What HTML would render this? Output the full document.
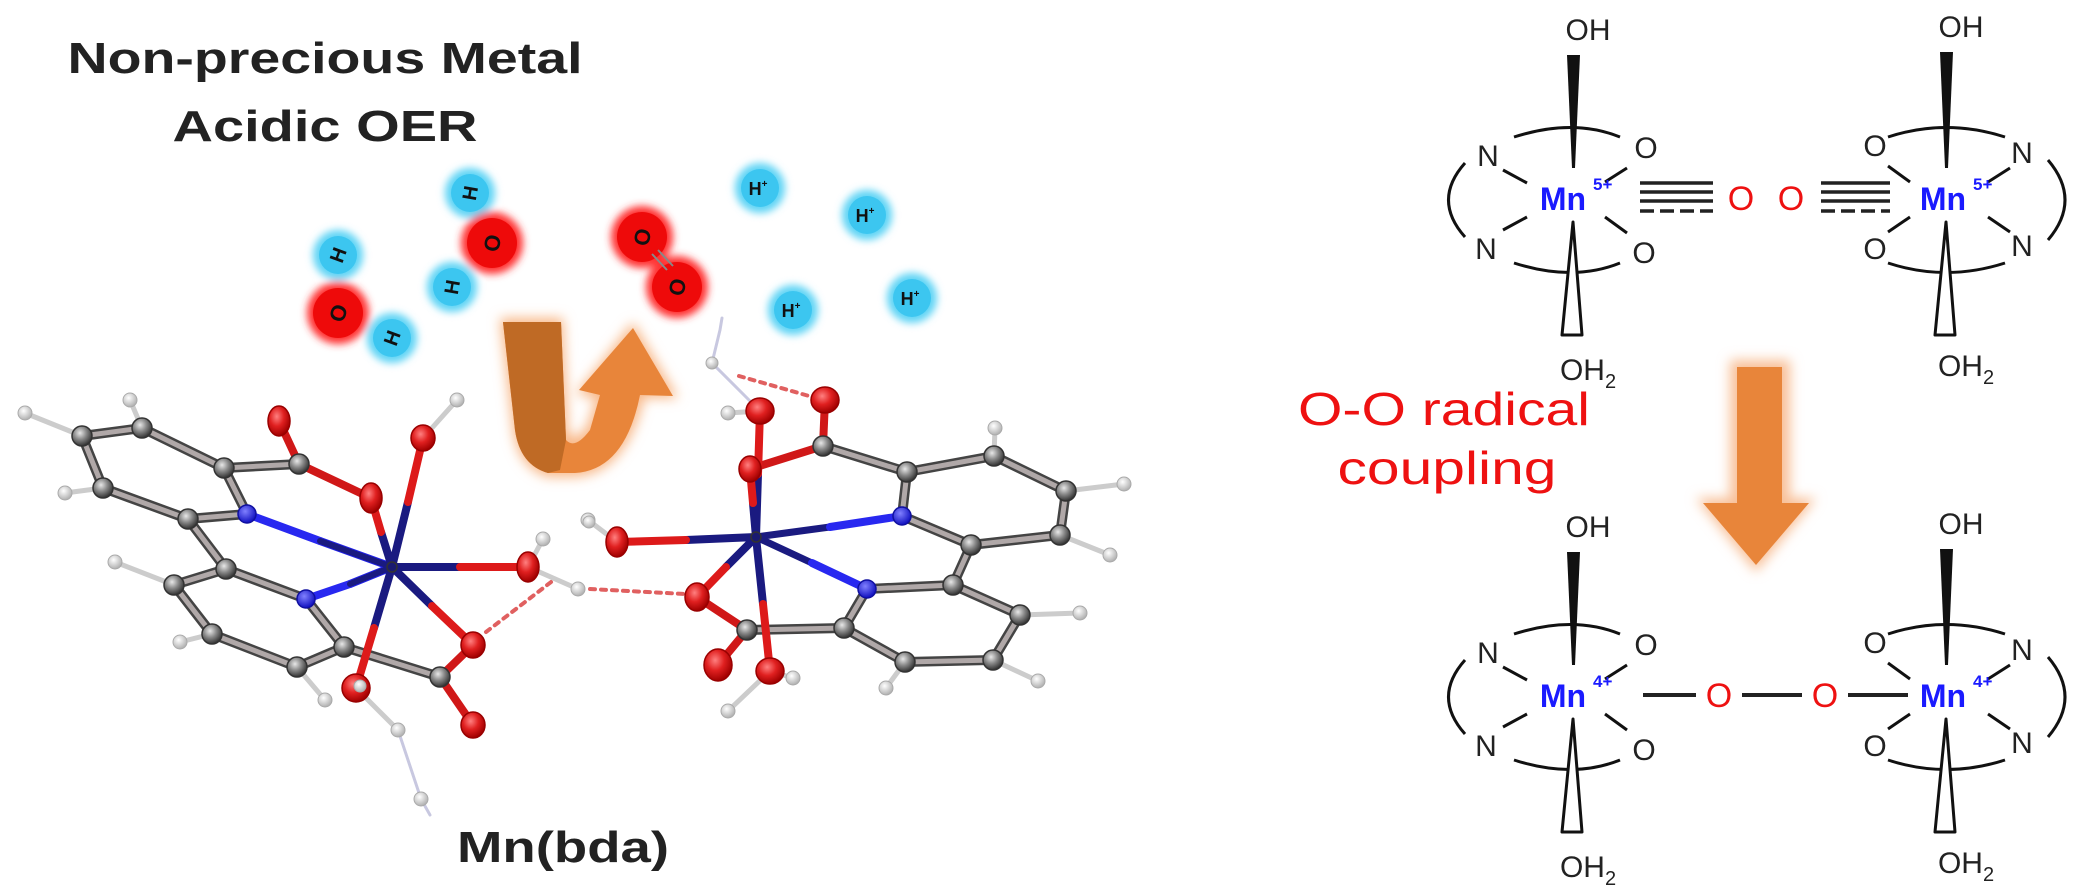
<!DOCTYPE html>
<html><head><meta charset="utf-8"><style>
html,body{margin:0;padding:0;background:#fff;}
svg{display:block;}
text{font-family:"Liberation Sans",Arial,sans-serif;}
</style></head><body>
<svg width="2077" height="886" viewBox="0 0 2077 886" xmlns="http://www.w3.org/2000/svg">
<defs>
<filter id="glow" x="-50%" y="-50%" width="200%" height="200%"><feGaussianBlur stdDeviation="4"/></filter>
<filter id="glow2" x="-50%" y="-50%" width="200%" height="200%"><feGaussianBlur stdDeviation="6"/></filter>
<radialGradient id="gC" cx="40%" cy="35%" r="65%"><stop offset="0" stop-color="#e8e8e8"/><stop offset="0.5" stop-color="#888"/><stop offset="1" stop-color="#333"/></radialGradient>
<radialGradient id="gO" cx="40%" cy="35%" r="65%"><stop offset="0" stop-color="#ff8080"/><stop offset="0.5" stop-color="#e02020"/><stop offset="1" stop-color="#a00000"/></radialGradient>
<radialGradient id="gN" cx="40%" cy="35%" r="65%"><stop offset="0" stop-color="#8080ff"/><stop offset="1" stop-color="#1010c0"/></radialGradient>
<radialGradient id="gH" cx="40%" cy="35%" r="65%"><stop offset="0" stop-color="#fff"/><stop offset="1" stop-color="#b0b0b0"/></radialGradient>
</defs>

<!-- Titles -->
<text x="325" y="73" font-size="44" font-weight="bold" text-anchor="middle" textLength="515" lengthAdjust="spacingAndGlyphs" fill="#222">Non-precious  Metal</text>
<text x="325" y="141" font-size="44" font-weight="bold" text-anchor="middle" textLength="305" lengthAdjust="spacingAndGlyphs" fill="#222">Acidic  OER</text>
<text x="563" y="862" font-size="44" font-weight="bold" text-anchor="middle" textLength="212" lengthAdjust="spacingAndGlyphs" fill="#222">Mn(bda)</text>

<!-- glowing atoms -->
<g filter="url(#glow)">
<circle cx="338" cy="255" r="25" fill="#5fd4f5"/><circle cx="392" cy="338" r="25" fill="#5fd4f5"/>
<circle cx="338" cy="313" r="31" fill="#ff3030"/>
<circle cx="470" cy="193" r="25" fill="#5fd4f5"/><circle cx="452" cy="287" r="25" fill="#5fd4f5"/>
<circle cx="492" cy="243" r="31" fill="#ff3030"/>
<circle cx="642" cy="237" r="31" fill="#ff3030"/><circle cx="677" cy="287" r="31" fill="#ff3030"/>
<circle cx="760" cy="188" r="25" fill="#5fd4f5"/><circle cx="867" cy="215" r="25" fill="#5fd4f5"/>
<circle cx="793" cy="310" r="25" fill="#5fd4f5"/><circle cx="912" cy="298" r="25" fill="#5fd4f5"/>
</g>
<g>
<circle cx="338" cy="255" r="19" fill="#3cc6f0"/><circle cx="392" cy="338" r="19" fill="#3cc6f0"/>
<circle cx="338" cy="313" r="25" fill="#ee0a0a"/>
<circle cx="470" cy="193" r="19" fill="#3cc6f0"/><circle cx="452" cy="287" r="19" fill="#3cc6f0"/>
<circle cx="492" cy="243" r="25" fill="#ee0a0a"/>
<circle cx="642" cy="237" r="25" fill="#ee0a0a"/><circle cx="677" cy="287" r="25" fill="#ee0a0a"/>
<line x1="652" y1="254" x2="667" y2="270" stroke="#888" stroke-width="2"/><line x1="658" y1="250" x2="673" y2="266" stroke="#888" stroke-width="2"/>
<circle cx="760" cy="188" r="19" fill="#3cc6f0"/><circle cx="867" cy="215" r="19" fill="#3cc6f0"/>
<circle cx="793" cy="310" r="19" fill="#3cc6f0"/><circle cx="912" cy="298" r="19" fill="#3cc6f0"/>
</g>
<g font-weight="bold" fill="#111" text-anchor="middle">
<text font-size="20" transform="translate(338,255) rotate(-70)" y="7">H</text>
<text font-size="20" transform="translate(392,338) rotate(-70)" y="7">H</text>
<text font-size="22" transform="translate(338,313) rotate(-70)" y="8">O</text>
<text font-size="20" transform="translate(470,193) rotate(-80)" y="7">H</text>
<text font-size="20" transform="translate(452,287) rotate(-80)" y="7">H</text>
<text font-size="22" transform="translate(492,243) rotate(-80)" y="8">O</text>
<text font-size="22" transform="translate(642,237) rotate(-80)" y="8">O</text>
<text font-size="22" transform="translate(677,287) rotate(-80)" y="8">O</text>
<text font-size="18" x="758" y="195">H<tspan font-size="10" dy="-8">+</tspan></text>
<text font-size="18" x="865" y="222">H<tspan font-size="10" dy="-8">+</tspan></text>
<text font-size="18" x="791" y="317">H<tspan font-size="10" dy="-8">+</tspan></text>
<text font-size="18" x="910" y="305">H<tspan font-size="10" dy="-8">+</tspan></text>
</g>

<!-- curved orange arrow -->
<path d="M500,318 L563,318 L568,432 Q576,444 588,424 L596,398 L576,394 L633,322 L678,398 L644,398 Q626,474 574,477 L548,477 Q518,468 513,430 Z" fill="#f8b888" filter="url(#glow2)"/>
<path d="M503,322 L561,322 L566,440 Q575,450 590,430 L600,395 L579,390 L633,328 L673,396 L640,395 Q625,470 575,473 L548,473 Q520,465 515,430 Z" fill="#e8853a"/>
<path d="M503,322 L561,322 L566,440 L560,470 L548,473 Q520,465 515,430 Z" fill="#bf6a25"/>

<!-- Molecule bonds -->
<g stroke-linecap="round" fill="none">
<!-- C-C grey bonds -->
<g stroke="#444" stroke-width="10">
<path d="M142,428 L224,468 L247,514 L188,519 L103,488 L82,436 Z"/>
<path d="M224,468 L299,464 M188,519 L226,569"/>
<path d="M226,569 L306,599 L344,647 L297,667 L212,634 L174,585 Z"/>
<path d="M344,647 L440,677"/>
<path d="M907,472 L902,516 L971,545 L1060,535 L1066,491 L994,456 Z"/>
<path d="M907,472 L823,446 M971,545 L953,585"/>
<path d="M953,585 L867,589 L844,628 L905,662 L993,660 L1020,615 Z"/>
<path d="M844,628 L747,630"/>
</g>
<g stroke="#b0a8a8" stroke-width="5">
<path d="M142,428 L224,468 L247,514 L188,519 L103,488 L82,436 Z"/>
<path d="M224,468 L299,464 M188,519 L226,569"/>
<path d="M226,569 L306,599 L344,647 L297,667 L212,634 L174,585 Z"/>
<path d="M344,647 L440,677"/>
<path d="M907,472 L902,516 L971,545 L1060,535 L1066,491 L994,456 Z"/>
<path d="M907,472 L823,446 M971,545 L953,585"/>
<path d="M953,585 L867,589 L844,628 L905,662 L993,660 L1020,615 Z"/>
<path d="M844,628 L747,630"/>
</g>
<!-- C-H -->
<g stroke="#ccc" stroke-width="5">
<path d="M82,436 L25,413 M142,428 L130,400 M103,488 L65,493 M174,585 L115,562 M212,634 L180,642 M297,667 L325,700"/>
<path d="M994,456 L995,428 M1066,491 L1124,484 M1060,535 L1110,555 M1020,615 L1080,613 M993,660 L1038,681 M905,662 L886,688"/>
<path d="M423,438 L457,400 M528,567 L543,539 M528,567 L578,589 M617,542 L588,520 M770,671 L793,678 M770,671 L728,711 M760,411 L728,413 M356,688 L398,730"/>
</g>
<g stroke="#c8c8e0" stroke-width="3">
<path d="M398,730 L421,799 L430,815 M760,411 L712,363 L720,330 L722,318"/>
</g>
<!-- C-O red -->
<g stroke="#d01818" stroke-width="8">
<path d="M299,464 L279,421 M299,464 L371,498 M440,677 L473,645 M440,677 L473,725"/>
<path d="M823,446 L825,400 M823,446 L750,469 M747,630 L697,597 M747,630 L718,665"/>
</g>
<!-- Mn bonds -->
<g stroke-width="8">
<path d="M392,567 L320,541" stroke="#2020e8"/><path d="M392,567 L350,584" stroke="#2020e8"/>
<path d="M320,541 L247,514 M350,584 L306,599" stroke="#2828f0"/>
<path d="M392,567 L320,541 M392,567 L350,584" stroke="#1a1a80" stroke-width="6"/>
<path d="M392,567 L381,532 M392,567 L408,502 M392,567 L460,567 M392,567 L432,606 M392,567 L374,628" stroke="#1a1a80"/>
<path d="M381,532 L371,498 M408,502 L423,438 M460,567 L528,567 M432,606 L473,645 M374,628 L356,688" stroke="#dd1a1a"/>
<path d="M756,537 L830,527 M756,537 L812,563" stroke="#1a1a80" stroke-width="7"/>
<path d="M830,527 L902,516 M812,563 L867,589" stroke="#2828f0"/>
<path d="M756,537 L753,503 M756,537 L758,474 M756,537 L686,540 M756,537 L726,567 M756,537 L763,604" stroke="#1a1a80"/>
<path d="M753,503 L750,469 M758,474 L760,411 M686,540 L617,542 M726,567 L697,597 M763,604 L770,671" stroke="#dd1a1a"/>
</g>
<!-- dashed H-bonds -->
<g stroke="#e06060" stroke-width="4" stroke-dasharray="5,6">
<path d="M486,632 L555,579 M590,589 L685,594 M739,376 L816,398"/>
</g>
</g>
<!-- atoms -->
<g stroke="#333" stroke-width="1.5">
<g fill="url(#gC)">
<circle cx="142" cy="428" r="10"/><circle cx="224" cy="468" r="10"/><circle cx="188" cy="519" r="10"/><circle cx="103" cy="488" r="10"/><circle cx="82" cy="436" r="10"/>
<circle cx="299" cy="464" r="10"/><circle cx="226" cy="569" r="10"/><circle cx="344" cy="647" r="10"/><circle cx="297" cy="667" r="10"/><circle cx="212" cy="634" r="10"/><circle cx="174" cy="585" r="10"/><circle cx="440" cy="677" r="10"/>
<circle cx="907" cy="472" r="10"/><circle cx="971" cy="545" r="10"/><circle cx="1060" cy="535" r="10"/><circle cx="1066" cy="491" r="10"/><circle cx="994" cy="456" r="10"/><circle cx="823" cy="446" r="10"/>
<circle cx="953" cy="585" r="10"/><circle cx="844" cy="628" r="10"/><circle cx="905" cy="662" r="10"/><circle cx="993" cy="660" r="10"/><circle cx="1020" cy="615" r="10"/><circle cx="747" cy="630" r="10"/>
</g>
<g fill="url(#gN)" stroke="#1010a0">
<circle cx="247" cy="514" r="9"/><circle cx="306" cy="599" r="9"/><circle cx="902" cy="516" r="9"/><circle cx="867" cy="589" r="9"/>
</g>
<g fill="url(#gO)" stroke="#900">
<ellipse cx="279" cy="421" rx="11" ry="15"/><ellipse cx="371" cy="498" rx="11" ry="15"/><ellipse cx="423" cy="438" rx="12" ry="13"/>
<ellipse cx="528" cy="567" rx="11" ry="15"/><ellipse cx="473" cy="645" rx="12" ry="13"/><ellipse cx="473" cy="725" rx="12" ry="13"/><ellipse cx="356" cy="688" rx="14" ry="14"/>
<ellipse cx="825" cy="400" rx="14" ry="13"/><ellipse cx="750" cy="469" rx="11" ry="13"/><ellipse cx="760" cy="411" rx="14" ry="13"/>
<ellipse cx="617" cy="542" rx="11" ry="15"/><ellipse cx="697" cy="597" rx="12" ry="14"/><ellipse cx="718" cy="665" rx="14" ry="16"/><ellipse cx="770" cy="671" rx="14" ry="13"/>
</g>
<g fill="url(#gH)" stroke="#aaa" stroke-width="1">
<circle cx="25" cy="413" r="7"/><circle cx="130" cy="400" r="7"/><circle cx="65" cy="493" r="7"/><circle cx="115" cy="562" r="7"/><circle cx="180" cy="642" r="7"/><circle cx="325" cy="700" r="7"/>
<circle cx="995" cy="428" r="7"/><circle cx="1124" cy="484" r="7"/><circle cx="1110" cy="555" r="7"/><circle cx="1080" cy="613" r="7"/><circle cx="1038" cy="681" r="7"/><circle cx="886" cy="688" r="7"/>
<circle cx="457" cy="400" r="7"/><circle cx="543" cy="539" r="7"/><circle cx="578" cy="589" r="7"/><circle cx="588" cy="520" r="7"/><circle cx="589" cy="522" r="6"/>
<circle cx="793" cy="678" r="7"/><circle cx="728" cy="711" r="7"/><circle cx="728" cy="413" r="7"/><circle cx="712" cy="363" r="6"/>
<circle cx="398" cy="730" r="7"/><circle cx="421" cy="799" r="7"/><circle cx="360" cy="686" r="6"/>
</g>
<circle cx="392" cy="567" r="5" fill="#1a1a70"/><circle cx="756" cy="537" r="5" fill="#1a1a70"/>
</g>

<!-- Right side: text -->
<text x="1444" y="425" font-size="46" fill="#ee1111" text-anchor="middle" textLength="292" lengthAdjust="spacingAndGlyphs">O-O radical</text>
<text x="1447" y="484" font-size="46" fill="#ee1111" text-anchor="middle" textLength="219" lengthAdjust="spacingAndGlyphs">coupling</text>

<!-- down arrow -->
<path d="M1730,360 L1790,360 L1790,498 L1816,498 L1756,572 L1696,498 L1730,498 Z" fill="#f8c098" filter="url(#glow2)"/>
<path d="M1737,367 L1782,367 L1782,503 L1809,503 L1756,565 L1703,503 L1737,503 Z" fill="#e8853a"/>

<!-- complexes -->
<g id="cxL">
<g fill="none" stroke="#111" stroke-width="3">
<path d="M1514,137 Q1573,118 1620,137"/>
<path d="M1514,263 Q1573,282 1620,263"/>
<path d="M1465,163 Q1432,200 1465,237"/>
<path d="M1503,170 L1527,183 M1503,230 L1527,217 M1627,168 L1605,182 M1605,217 L1627,233"/>
</g>
<path d="M1567,55 L1580,55 L1575,168 L1572,168 Z" fill="#111"/>
<path d="M1573,222 L1562,335 L1582,335 Z" fill="#fff" stroke="#111" stroke-width="3" stroke-linejoin="round"/>
<g font-size="30" fill="#222" text-anchor="middle">
<text x="1488" y="166">N</text><text x="1486" y="259">N</text><text x="1646" y="158">O</text><text x="1644" y="263">O</text>
<text x="1588" y="40">OH</text>
<text x="1588" y="380">OH<tspan font-size="20" dy="8">2</tspan></text>
</g>
</g>
<g id="cxR">
<g fill="none" stroke="#111" stroke-width="3">
<path d="M1888,137 Q1946,118 2005,137"/>
<path d="M1888,263 Q1946,282 2005,263"/>
<path d="M2048,160 Q2082,200 2048,240"/>
<path d="M2010,168 L1988,182 M1988,217 L2010,232 M1888,166 L1910,182 M1910,217 L1888,232"/>
</g>
<path d="M1940,52 L1953,52 L1948,168 L1945,168 Z" fill="#111"/>
<path d="M1946,222 L1935,335 L1955,335 Z" fill="#fff" stroke="#111" stroke-width="3" stroke-linejoin="round"/>
<g font-size="30" fill="#222" text-anchor="middle">
<text x="2022" y="163">N</text><text x="2022" y="256">N</text><text x="1875" y="156">O</text><text x="1875" y="259">O</text>
<text x="1961" y="37">OH</text>
<text x="1966" y="376">OH<tspan font-size="20" dy="8">2</tspan></text>
</g>
</g>
<!-- upper Mn labels & bonds -->
<g font-size="32" font-weight="bold" fill="#1a1aff" text-anchor="middle">
<text x="1563" y="210">Mn</text><text x="1943" y="210">Mn</text>
</g>
<g font-size="17" font-weight="bold" fill="#1a1aff"><text x="1593" y="190">5+</text><text x="1973" y="190">5+</text></g>
<g stroke="#222" stroke-width="3.5">
<path d="M1640,183 H1713 M1640,192 H1713 M1640,201 H1713"/>
<path d="M1640,211 H1713" stroke-dasharray="14,6"/>
<path d="M1821,183 H1890 M1821,192 H1890 M1821,201 H1890"/>
<path d="M1821,211 H1890" stroke-dasharray="14,6"/>
</g>
<g font-size="34" fill="#ee1111" text-anchor="middle"><text x="1741" y="210">O</text><text x="1791" y="210">O</text></g>

<!-- lower complexes -->
<use href="#cxL" transform="translate(0,497)"/>
<use href="#cxR" transform="translate(0,497)"/>
<g font-size="32" font-weight="bold" fill="#1a1aff" text-anchor="middle">
<text x="1563" y="707">Mn</text><text x="1943" y="707">Mn</text>
</g>
<g font-size="17" font-weight="bold" fill="#1a1aff"><text x="1593" y="687">4+</text><text x="1973" y="687">4+</text></g>
<g stroke="#222" stroke-width="4">
<path d="M1643,695 H1696 M1742,695 H1802 M1848,695 H1908"/>
</g>
<g font-size="34" fill="#ee1111" text-anchor="middle"><text x="1719" y="707">O</text><text x="1825" y="707">O</text></g>
</svg>
</body></html>
